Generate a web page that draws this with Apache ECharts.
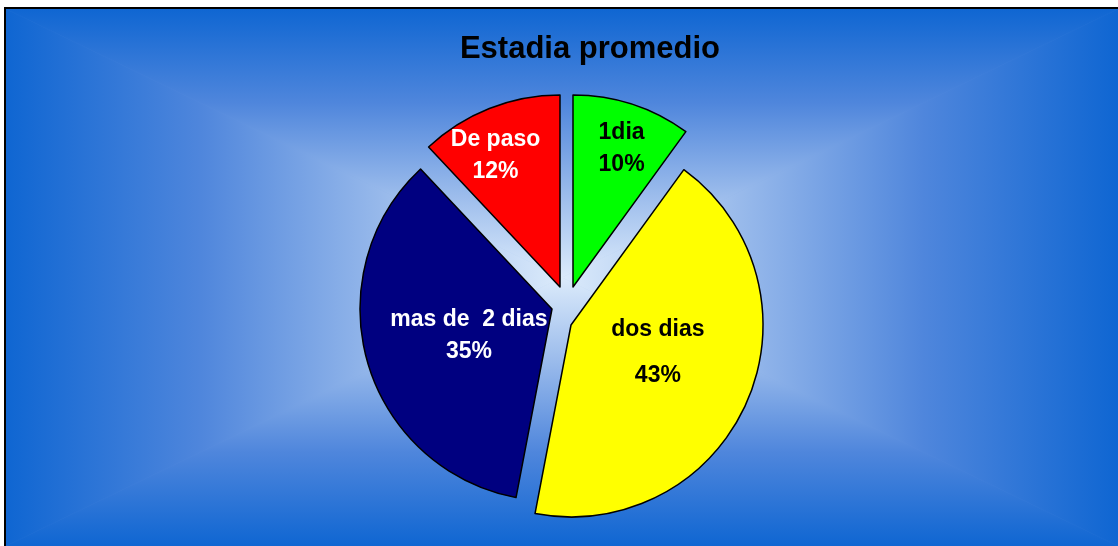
<!DOCTYPE html>
<html>
<head>
<meta charset="utf-8">
<title>Estadia promedio</title>
<script src="https://cdn.jsdelivr.net/npm/echarts@6/dist/echarts.min.js"></script>
<style>
  html, body { margin:0; padding:0; background:#fff; }
  #chart { width:1118px; height:546px; }
</style>
</head>
<body>
<div id="chart"></div>
<script>
// datos del gráfico
const categorias = ['1dia', 'dos dias', 'mas de  2 dias', 'De paso'];
const valores = [10, 43, 35, 12];

// estilo de cada porción
const colores = ['#00ff00', '#ffff00', '#000080', '#ff0000'];
const coloresTexto = ['#000', '#000', '#fff', '#fff'];
// porciones separadas: cada una con su propio centro
const centros = [[573, 287], [571, 325], [552, 309], [560, 287]];
const desplazaEtiqueta = [[18, -44], [-4, -12], [12, -1], [-28, -39]];
const FUENTE = '"Liberation Sans", Arial, sans-serif';

const chart = echarts.init(document.getElementById('chart'));

// fondo: degradado rectangular desde el centro (4 triángulos)
const x0 = 6, y0 = 9, x1 = 1118, y1 = 546;
const cx = (x0 + x1) / 2, cy = (y0 + y1) / 2;
const stops = [
  { offset: 0, color: '#0f66d2' },
  { offset: 0.35, color: '#4f86dc' },
  { offset: 0.7, color: '#9dbdec' },
  { offset: 1, color: '#dcebfb' }
];
function grad(xa, ya, xb, yb) {
  return new echarts.graphic.LinearGradient(xa, ya, xb, yb, stops);
}
function tri(points, g) {
  return { type: 'polygon', shape: { points: points }, style: { fill: g, stroke: g, lineWidth: 0.7 } };
}
const fondo = [
  { type: 'rect', shape: { x: x0, y: y0, width: x1 - x0, height: y1 - y0 }, style: { fill: '#6d9be2' } },
  tri([[x0, y0], [x1, y0], [cx, cy]], grad(0, 0, 0, 1)),
  tri([[x0, y1], [x1, y1], [cx, cy]], grad(0, 1, 0, 0)),
  tri([[x0, y0], [x0, y1], [cx, cy]], grad(0, 0, 1, 0)),
  tri([[x1, y0], [x1, y1], [cx, cy]], grad(1, 0, 0, 0)),
  { type: 'rect', shape: { x: 5, y: 8, width: 1200, height: 600 }, style: { fill: 'none', stroke: '#000', lineWidth: 2 } }
].map(e => Object.assign(e, { z: -10, silent: true }));

// una serie por porción para poder separar cada una
const series = categorias.map((cat, k) => ({
  type: 'pie',
  center: centros[k],
  radius: 192,
  startAngle: 90,
  clockwise: true,
  silent: true,
  animation: false,
  avoidLabelOverlap: false,
  labelLine: { show: false },
  label: {
    show: true,
    position: 'inside',
    color: coloresTexto[k],
    fontFamily: FUENTE,
    fontSize: 23,
    fontWeight: 'bold',
    lineHeight: k === 1 ? 23 : 32,
    textBorderWidth: 0,
    formatter: p => p.name + (k === 1 ? '\n\n' : '\n') + Math.round(p.percent) + '%'
  },
  labelLayout: () => ({ dx: desplazaEtiqueta[k][0], dy: desplazaEtiqueta[k][1] }),
  data: valores.map((v, i) => ({
    name: categorias[i],
    value: v,
    itemStyle: i === k
      ? { color: colores[i], borderColor: '#000', borderWidth: 1.5 }
      : { color: 'rgba(0,0,0,0)', borderWidth: 0 },
    label: { show: i === k }
  }))
}));

chart.setOption({
  animation: false,
  graphic: { elements: fondo },
  title: {
    text: 'Estadia promedio',
    left: 585,
    top: 29,
    textAlign: 'center',
    textStyle: { fontFamily: FUENTE, fontSize: 31, fontWeight: 'bold', color: '#000' }
  },
  series: series
});
</script>
</body>
</html>
